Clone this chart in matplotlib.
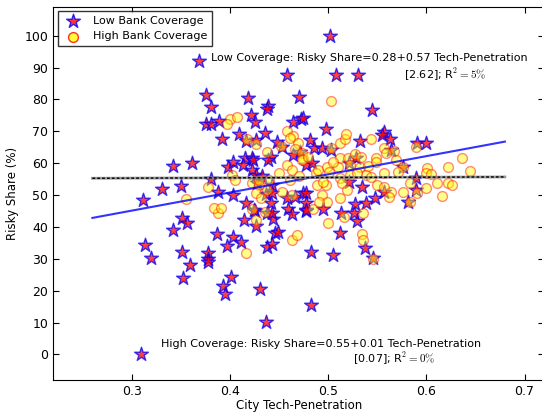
import matplotlib
matplotlib.use("Agg")
import matplotlib.pyplot as plt
import numpy as np

plt.rcParams["font.family"] = "DejaVu Sans"
plt.rcParams["mathtext.fontset"] = "cm"

# Low bank coverage cities (stars): tech penetration, risky share (%)
low_x = [0.369, 0.502, 0.458, 0.508, 0.530, 0.376, 0.381, 0.418, 0.470, 0.376,
         0.381, 0.389, 0.392, 0.409, 0.416, 0.421, 0.426, 0.427, 0.436, 0.439,
         0.438, 0.464, 0.472, 0.474, 0.498, 0.545, 0.557, 0.555, 0.563, 0.532,
         0.591, 0.600, 0.564, 0.448, 0.453, 0.482, 0.486, 0.494, 0.503, 0.415,
         0.423, 0.442, 0.464, 0.471, 0.342, 0.361, 0.331, 0.350, 0.312, 0.381,
         0.388, 0.398, 0.403, 0.413, 0.424, 0.423, 0.427, 0.433, 0.439, 0.403,
         0.416, 0.437, 0.314, 0.320, 0.342, 0.351, 0.356, 0.351, 0.359, 0.352,
         0.378, 0.378, 0.378, 0.387, 0.397, 0.403, 0.411, 0.401, 0.393, 0.395,
         0.414, 0.427, 0.426, 0.438, 0.438, 0.431, 0.437, 0.309, 0.512, 0.483,
         0.505, 0.538, 0.546, 0.483, 0.529, 0.526, 0.513, 0.495, 0.477, 0.459,
         0.463, 0.444, 0.446, 0.443, 0.428, 0.443, 0.443, 0.425, 0.442, 0.458,
         0.466, 0.474, 0.478, 0.478, 0.478, 0.443, 0.527, 0.449, 0.576, 0.589,
         0.590, 0.581, 0.535, 0.539, 0.548, 0.557, 0.521, 0.528, 0.477, 0.484,
         0.521]
low_y = [92.0, 100.0, 87.8, 87.8, 87.8, 81.3, 77.5, 80.6, 80.9, 72.2,
         72.2, 73.1, 67.5, 69.1, 66.9, 75.0, 72.8, 67.2, 69.4, 77.8,
         76.9, 72.8, 73.8, 74.1, 70.6, 76.6, 69.7, 68.8, 67.5, 66.9,
         66.3, 66.3, 64.1, 66.6, 65.0, 67.2, 64.7, 64.7, 64.1, 61.6,
         61.6, 61.9, 62.5, 63.4, 59.1, 60.0, 51.9, 52.8, 48.4, 55.0,
         50.9, 58.8, 60.3, 59.4, 60.9, 57.8, 56.3, 55.9, 60.9, 50.0,
         47.5, 50.3, 34.4, 30.3, 39.1, 42.8, 41.3, 32.2, 28.1, 24.1,
         31.9, 30.0, 29.1, 37.8, 34.1, 36.9, 35.3, 24.4, 21.3, 19.1,
         42.2, 40.3, 45.0, 44.4, 33.8, 20.6, 10.3, 0.0, 38.1, 32.2,
         31.3, 33.4, 30.3, 15.6, 41.9, 44.4, 44.4, 45.6, 45.0, 45.6,
         44.1, 42.5, 38.1, 34.7, 53.8, 53.1, 50.6, 45.3, 47.5, 49.1,
         49.4, 50.6, 50.6, 47.5, 45.3, 44.4, 47.2, 38.4, 58.8, 55.3,
         51.6, 47.8, 52.5, 47.5, 49.1, 50.9, 60.0, 61.6, 59.4, 60.0,
         54.1]

# High bank coverage cities (circles)
high_x = [0.503, 0.400, 0.407, 0.397, 0.417, 0.427, 0.438, 0.378, 0.355, 0.423,
          0.430, 0.427, 0.438, 0.388, 0.384, 0.391, 0.416, 0.427, 0.422, 0.500,
          0.516, 0.535, 0.536, 0.546, 0.463, 0.468, 0.485, 0.536, 0.458, 0.464,
          0.461, 0.469, 0.452, 0.512, 0.517, 0.518, 0.466, 0.473, 0.503, 0.512,
          0.474, 0.520, 0.544, 0.557, 0.567, 0.559, 0.590, 0.636, 0.549, 0.532,
          0.549, 0.557, 0.569, 0.576, 0.601, 0.622, 0.644, 0.539, 0.544, 0.550,
          0.557, 0.564, 0.576, 0.583, 0.600, 0.605, 0.611, 0.600, 0.616, 0.622,
          0.626, 0.562, 0.571, 0.583, 0.591, 0.458, 0.463, 0.473, 0.499, 0.510,
          0.522, 0.461, 0.488, 0.501, 0.512, 0.514, 0.522, 0.529, 0.489, 0.498,
          0.519, 0.430, 0.440, 0.453, 0.463, 0.494, 0.499, 0.512, 0.491, 0.436,
          0.432, 0.402, 0.405, 0.480, 0.490, 0.505, 0.527, 0.534, 0.541, 0.470,
          0.450, 0.495]
high_y = [79.4, 73.8, 74.4, 72.2, 67.5, 65.9, 63.4, 52.5, 48.8, 53.8,
          53.1, 50.6, 51.6, 44.4, 45.9, 45.9, 31.9, 42.2, 45.6, 41.3,
          43.1, 37.8, 35.9, 30.0, 35.9, 37.5, 45.6, 44.4, 70.0, 68.4,
          67.8, 66.3, 65.3, 66.3, 67.5, 69.1, 64.4, 63.1, 64.7, 61.6,
          61.3, 61.6, 67.5, 64.7, 63.8, 63.1, 65.0, 61.6, 61.6, 58.8,
          60.3, 56.9, 60.9, 58.8, 58.4, 58.8, 57.5, 56.3, 55.6, 53.1,
          52.5, 50.9, 50.9, 53.8, 56.9, 56.6, 53.8, 52.2, 49.7, 53.8,
          53.1, 49.4, 57.2, 47.8, 50.6, 59.4, 57.8, 60.9, 58.8, 58.8,
          59.4, 54.7, 56.9, 57.2, 55.3, 53.8, 56.3, 56.9, 53.1, 53.1,
          51.6, 54.7, 54.7, 50.9, 50.0, 50.0, 47.8, 49.1, 47.8, 44.7,
          49.1, 56.3, 54.7, 62.0, 58.0, 60.5, 63.0, 62.0, 59.0, 56.0,
          57.0, 54.0]

# fitted lines (share as fraction, plotted in %)
fit_x = [0.26, 0.68]
low_fit = (0.28, 0.57)
high_fit = (0.55, 0.01)

fig = plt.figure(figsize=(5.42, 4.12), dpi=100)
ax = fig.add_axes([0.098, 0.078, 0.906, 0.905])

ax.scatter(low_x, low_y, marker="*", s=110, facecolor="red", edgecolor="blue",
           linewidth=1.0, alpha=0.75, zorder=3, label="Low Bank Coverage")
ax.scatter(high_x, high_y, marker="o", s=50, facecolor="yellow", edgecolor="red",
           linewidth=1.0, alpha=0.45, zorder=4, label="High Bank Coverage")

fx = np.array(fit_x)
ax.plot(fx, 100 * (low_fit[0] + low_fit[1] * fx), color="blue", lw=1.5, alpha=0.8, zorder=5)
hy = 100 * (high_fit[0] + high_fit[1] * fx)
ax.plot(fx, hy, color="gray", lw=2.0, alpha=0.8, zorder=5)
ax.plot(fx, hy, color="black", lw=1.0, ls=(0, (2, 1.5)), zorder=6)

ax.text(0.381, 93.1, "Low Coverage: Risky Share=0.28+0.57 Tech-Penetration",
        fontsize=8, va="center", ha="left", zorder=7)
ax.text(0.577, 87.8, "[2.62]; R$^2=5\\%$", fontsize=8, va="center", ha="left", zorder=7)
ax.text(0.330, 3.4, "High Coverage: Risky Share=0.55+0.01 Tech-Penetration",
        fontsize=8, va="center", ha="left", zorder=7)
ax.text(0.525, -1.3, "[0.07]; R$^2=0\\%$", fontsize=8, va="center", ha="left", zorder=7)

ax.set_xlim(0.22, 0.72)
ax.set_ylim(-8, 109)
ax.set_xticks([0.3, 0.4, 0.5, 0.6, 0.7])
ax.set_yticks(range(0, 101, 10))
ax.tick_params(direction="in", top=True, right=True, length=4, labelsize=9)
ax.set_xlabel("City Tech-Penetration", fontsize=8.5, labelpad=1)
ax.set_ylabel("Risky Share (%)", fontsize=8.5)

leg = ax.legend(loc="upper left", scatterpoints=1, fontsize=8, frameon=True,
                fancybox=False, borderaxespad=0.4, handletextpad=0.8)
leg.get_frame().set_edgecolor("black")
for h in leg.legend_handles:
    h.set_alpha(0.8)

fig.savefig("out.png", dpi=100)
